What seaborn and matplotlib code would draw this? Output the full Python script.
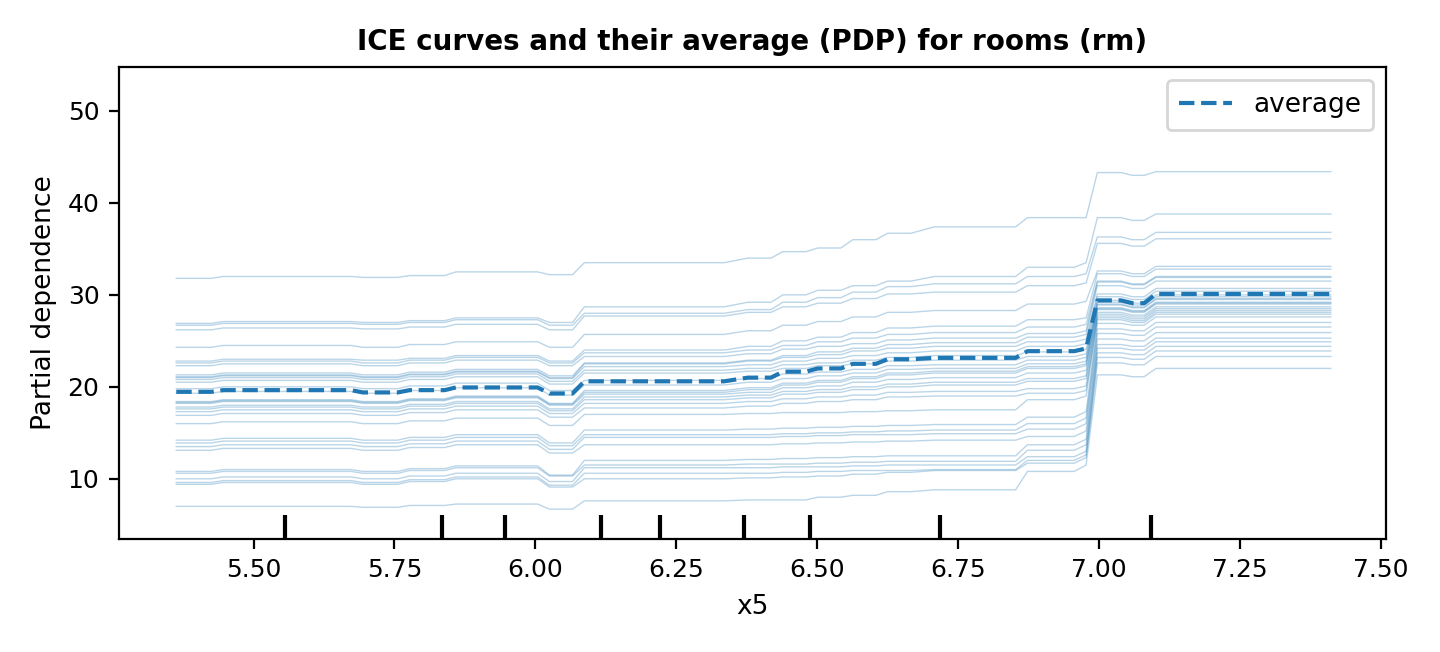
import matplotlib
matplotlib.use("Agg")
import matplotlib.pyplot as plt
import pandas as pd
import seaborn as sns

plt.rcParams['font.size'] = 9

# x-range of each flat piece of the ICE curves (grid points where the model output is constant)
plateau_start = [5.363, 5.446, 5.694, 5.777, 5.859, 6.025, 6.087, 6.377, 6.439,
                 6.501, 6.563, 6.625, 6.708, 6.873, 6.977, 6.997, 7.059, 7.101]
plateau_end = [5.425, 5.673, 5.756, 5.839, 6.004, 6.066, 6.335, 6.418, 6.480,
               6.542, 6.604, 6.666, 6.852, 6.956, 6.977, 7.039, 7.080, 7.411]

# level of each ICE curve on every plateau (one row per sampled house)
ice_rows = [
    [31.8, 32.0, 31.9, 32.1, 32.5, 32.2, 33.5, 34.0, 34.7, 35.1, 36.0, 36.7, 37.4, 38.4, 38.4, 43.3, 43.0, 43.4],
    [26.9, 27.1, 27.0, 27.2, 27.5, 27.0, 28.7, 29.2, 30.0, 30.5, 31.0, 31.5, 32.0, 33.0, 33.5, 38.4, 38.1, 38.8],
    [26.7, 26.9, 26.8, 27.0, 27.3, 26.7, 28.0, 28.4, 29.2, 29.7, 30.3, 30.9, 31.2, 32.0, 32.3, 36.3, 36.0, 36.8],
    [26.2, 26.4, 26.3, 26.5, 26.8, 26.2, 27.7, 28.1, 28.7, 29.1, 29.6, 30.1, 30.3, 31.0, 31.3, 35.6, 35.3, 36.1],
    [24.3, 24.5, 24.3, 24.6, 24.9, 24.3, 25.7, 26.1, 26.7, 27.1, 27.6, 28.1, 28.3, 29.0, 29.3, 32.6, 32.3, 33.1],
    [22.8, 23.0, 22.9, 23.1, 23.4, 22.8, 24.0, 24.4, 25.0, 25.4, 25.9, 26.4, 26.6, 27.3, 27.5, 32.3, 32.0, 32.8],
    [22.6, 22.8, 22.6, 22.9, 23.2, 22.6, 23.7, 24.0, 24.5, 24.9, 25.3, 25.7, 25.9, 26.5, 26.8, 31.5, 31.2, 32.0],
    [22.3, 22.5, 22.3, 22.6, 22.9, 22.3, 23.3, 23.6, 24.1, 24.4, 24.7, 25.1, 25.3, 25.8, 26.1, 31.4, 31.1, 31.9],
    [21.3, 21.5, 21.3, 21.6, 21.9, 21.2, 22.6, 22.9, 23.4, 23.8, 24.2, 24.6, 24.8, 25.4, 25.7, 31.0, 30.7, 31.5],
    [21.1, 21.3, 21.1, 21.4, 21.7, 21.0, 22.5, 22.8, 23.2, 23.5, 23.9, 24.2, 24.4, 24.9, 25.2, 30.1, 29.8, 30.7],
    [21.0, 21.2, 21.0, 21.3, 21.6, 20.9, 22.2, 22.4, 22.8, 23.1, 23.4, 23.7, 23.9, 24.4, 24.7, 29.8, 29.5, 30.4],
    [20.8, 21.0, 20.8, 21.1, 21.4, 20.6, 21.8, 22.0, 22.4, 22.6, 22.9, 23.2, 23.4, 23.8, 24.1, 29.4, 29.1, 30.0],
    [20.5, 20.7, 20.5, 20.8, 21.1, 20.3, 21.5, 21.7, 22.0, 22.3, 22.5, 22.8, 22.9, 23.3, 23.6, 29.2, 28.9, 29.8],
    [19.8, 20.0, 19.8, 20.1, 20.4, 19.6, 20.7, 20.9, 21.4, 21.6, 21.9, 22.3, 22.4, 22.9, 23.2, 29.0, 28.7, 29.6],
    [19.3, 19.5, 19.3, 19.6, 19.9, 19.1, 20.2, 20.5, 20.9, 21.2, 21.5, 21.9, 22.0, 22.5, 22.8, 28.9, 28.6, 29.5],
    [18.4, 18.6, 18.4, 18.7, 19.0, 18.2, 19.6, 19.9, 20.4, 20.7, 21.1, 21.5, 21.7, 22.2, 22.5, 28.6, 28.3, 29.2],
    [18.3, 18.5, 18.3, 18.6, 18.9, 18.1, 19.4, 19.7, 20.2, 20.5, 20.9, 21.3, 21.5, 22.0, 22.3, 28.5, 28.2, 29.1],
    [18.2, 18.4, 18.2, 18.5, 18.8, 18.0, 19.2, 19.4, 19.9, 20.1, 20.5, 20.8, 21.0, 21.5, 21.8, 28.4, 28.1, 29.0],
    [17.8, 18.0, 17.8, 18.1, 18.4, 17.6, 18.9, 19.1, 19.5, 19.7, 20.0, 20.3, 20.5, 20.9, 21.2, 28.1, 27.8, 28.7],
    [17.6, 17.8, 17.6, 17.9, 18.2, 17.4, 18.6, 18.8, 19.2, 19.4, 19.7, 20.0, 20.2, 20.6, 20.9, 27.9, 27.6, 28.5],
    [17.3, 17.5, 17.3, 17.6, 17.9, 17.1, 18.2, 18.4, 18.7, 18.9, 19.1, 19.4, 19.5, 19.8, 20.1, 27.7, 27.4, 28.3],
    [16.9, 17.1, 16.9, 17.2, 17.5, 16.7, 17.7, 17.9, 18.2, 18.4, 18.6, 18.9, 19.0, 19.3, 19.6, 27.5, 27.2, 28.1],
    [16.0, 16.2, 16.0, 16.3, 16.6, 15.8, 17.0, 17.1, 17.2, 17.2, 17.3, 17.4, 17.5, 18.6, 19.0, 27.3, 27.0, 27.9],
    [14.2, 14.4, 14.2, 14.5, 14.8, 13.9, 15.3, 15.4, 15.5, 15.6, 15.7, 15.8, 15.9, 16.7, 17.3, 26.9, 26.7, 27.6],
    [13.9, 14.1, 13.9, 14.2, 14.5, 13.6, 14.8, 14.8, 14.9, 15.0, 15.1, 15.2, 15.3, 16.0, 16.6, 26.3, 26.1, 27.0],
    [13.5, 13.7, 13.5, 13.8, 14.1, 13.2, 14.5, 14.5, 14.6, 14.7, 14.8, 14.8, 14.9, 15.4, 16.0, 25.8, 25.6, 26.5],
    [13.1, 13.3, 13.1, 13.4, 13.7, 12.8, 13.7, 13.7, 13.8, 13.9, 14.0, 14.1, 14.2, 14.6, 15.2, 25.2, 25.0, 25.9],
    [10.8, 11.0, 10.8, 11.1, 11.4, 10.4, 12.0, 12.1, 12.2, 12.3, 12.4, 12.5, 12.5, 13.7, 14.3, 24.6, 24.4, 25.3],
    [10.6, 10.8, 10.6, 10.9, 11.2, 10.3, 11.5, 11.6, 11.6, 11.7, 11.8, 11.9, 11.9, 13.1, 13.7, 24.2, 24.0, 24.9],
    [10.0, 10.2, 10.0, 10.3, 10.6, 9.7, 11.2, 11.2, 11.3, 11.3, 11.4, 11.5, 11.5, 12.4, 13.0, 23.7, 23.5, 24.4],
    [9.6, 9.8, 9.6, 9.9, 10.2, 9.3, 10.6, 10.6, 10.7, 10.8, 10.9, 10.9, 11.0, 12.0, 12.6, 23.2, 23.0, 23.9],
    [9.4, 9.6, 9.4, 9.7, 10.0, 9.1, 10.0, 10.1, 10.2, 10.3, 10.5, 10.7, 10.9, 11.7, 12.3, 22.6, 22.4, 23.3],
    [7.0, 7.0, 6.9, 7.1, 7.25, 6.7, 7.6, 7.7, 7.7, 8.0, 8.2, 8.6, 8.8, 10.8, 11.5, 21.3, 21.1, 22.0],
]

# partial dependence (average over all samples) on the same plateaus
pdp_levels = [19.46, 19.64, 19.39, 19.64, 19.93, 19.28, 20.6, 21.0, 21.65,
              22.0, 22.5, 23.0, 23.15, 23.88, 24.17, 29.4, 29.1, 30.1]

# deciles of rm in the training data (rug at the bottom)
deciles = [5.556, 5.835, 5.947, 6.117, 6.221, 6.370, 6.487, 6.718, 7.092]


def to_points(levels):
    xs, ys = [], []
    for x0, x1, v in zip(plateau_start, plateau_end, levels):
        xs.append(x0)
        ys.append(v)
        if x1 != x0:
            xs.append(x1)
            ys.append(v)
    return xs, ys


records = []
for cid, levels in enumerate(ice_rows):
    xs, ys = to_points(levels)
    for x, y in zip(xs, ys):
        records.append({"curve": cid, "x5": x, "value": y})
ice_df = pd.DataFrame(records)

px, py = to_points(pdp_levels)
pdp_df = pd.DataFrame({"x5": px, "value": py})

fig = plt.figure(figsize=(7.2, 3.26), dpi=200)
ax = fig.add_axes([0.0826, 0.1733, 0.8799, 0.7239])

sns.lineplot(data=ice_df, x="x5", y="value", units="curve", estimator=None,
             color="tab:blue", alpha=0.3, linewidth=0.5, legend=False, ax=ax)
sns.lineplot(data=pdp_df, x="x5", y="value", color="tab:blue", linestyle="--",
             linewidth=1.5, label="average", ax=ax)

# decile rug, like sklearn's PartialDependenceDisplay
ax.vlines(deciles, 0, 0.05, transform=ax.get_xaxis_transform(), colors="k", linewidth=1.5)

ax.set_xlim(5.2613, 7.509)
ax.set_ylim(3.45, 54.78)
ax.set_xlabel("x5", fontsize=9.5)
ax.set_ylabel("Partial dependence", fontsize=9.5)
ax.set_title("ICE curves and their average (PDP) for rooms (rm)", fontsize=10, fontweight="bold")
ax.legend(loc="upper right", fontsize=9.5, borderpad=0.45)

fig.savefig("out.png", dpi=200)
